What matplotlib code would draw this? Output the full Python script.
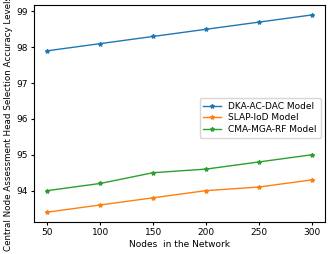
import matplotlib

matplotlib.use("Agg")
import matplotlib.pyplot as plt

nodes = [50, 100, 150, 200, 250, 300]
dka_ac_dac = [97.9, 98.1, 98.3, 98.5, 98.7, 98.9]
slap_iod = [93.4, 93.6, 93.8, 94.0, 94.1, 94.3]
cma_mga_rf = [94.0, 94.2, 94.5, 94.6, 94.8, 95.0]

plt.rcParams["font.size"] = 6.5

fig, ax = plt.subplots(figsize=(3.31, 2.54), dpi=100)
ax.plot(nodes, dka_ac_dac, marker="*", markersize=3, linewidth=1.0, label="DKA-AC-DAC Model")
ax.plot(nodes, slap_iod, marker="*", markersize=3, linewidth=1.0, label="SLAP-IoD Model")
ax.plot(nodes, cma_mga_rf, marker="*", markersize=3, linewidth=1.0, label="CMA-MGA-RF Model")

ax.set_xticks(nodes)
ax.set_xlabel("Nodes  in the Network", labelpad=2)
ax.set_ylabel("Central Node Assessment Head Selection Accuracy Levels", fontsize=6.3)
ax.yaxis.set_label_coords(-0.073, 0.455)
ax.tick_params(length=2.5, pad=2)
ax.legend(loc="center right", bbox_to_anchor=(1.0, 0.48), fontsize=6.5,
          handlelength=2, borderpad=0.4, labelspacing=0.3)

fig.subplots_adjust(left=0.103, right=0.982, top=0.98, bottom=0.126)
fig.savefig("out.png", dpi=100)
